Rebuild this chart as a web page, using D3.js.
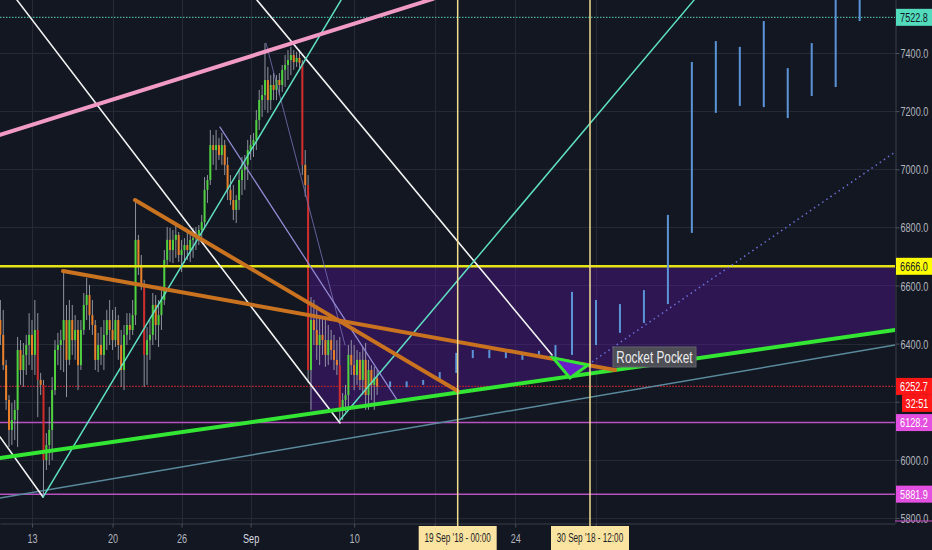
<!DOCTYPE html>
<html>
<head>
<meta charset="utf-8">
<script src="https://cdn.jsdelivr.net/npm/d3@7"></script>
<style>
  html, body { margin: 0; padding: 0; background: #131722; }
  svg { display: block; }
</style>
</head>
<body>
<svg id="chart" width="932" height="550"></svg>
<script>
// ---------------- data ----------------
// BTC/USD 6-hour candles [open, high, low, close], starting 10 Aug 2018 06:00 UTC
const candleStart = "2018-08-10T06:00:00Z";
const candleHours = 6;
const candles = [
  [6481,6550,6395,6430],[6430,6516,6309,6326],[6326,6344,6172,6206],[6206,6223,6044,6103],
  [6103,6196,6051,6137],[6137,6206,6068,6172],[6172,6423,6044,6378],[6378,6412,6258,6309],
  [6309,6402,6251,6361],[6361,6430,6292,6395],[6395,6505,6326,6430],[6430,6481,6309,6361],
  [6361,6550,6292,6447],[6447,6505,6147,6275],[6275,6299,6223,6258],[6258,6275,5882,5999],
  [5999,6092,5965,6051],[6051,6182,5982,6103],[6103,6285,5999,6240],[6240,6412,6223,6378],
  [6378,6437,6326,6395],[6395,6447,6309,6412],[6412,6653,6302,6481],[6481,6533,6216,6344],
  [6344,6550,6326,6481],[6481,6533,6361,6412],[6412,6498,6344,6447],[6447,6481,6240,6326],
  [6326,6481,6309,6447],[6447,6574,6430,6533],[6533,6626,6481,6567],[6567,6602,6447,6498],
  [6498,6550,6430,6464],[6464,6481,6309,6344],[6344,6437,6302,6395],[6395,6457,6326,6361],
  [6361,6481,6309,6430],[6430,6516,6378,6481],[6481,6550,6395,6447],[6447,6516,6378,6412],
  [6412,6526,6388,6481],[6481,6498,6344,6395],[6395,6447,6251,6309],[6309,6464,6240,6430],
  [6430,6505,6395,6464],[6464,6505,6412,6447],[6447,6550,6430,6498],[6498,6894,6464,6757],
  [6757,6774,6636,6671],[6671,6705,6584,6602],[6602,6619,6251,6361],[6361,6457,6258,6412],
  [6412,6481,6344,6430],[6430,6574,6395,6533],[6533,6567,6412,6464],[6464,6550,6388,6498],
  [6498,6584,6447,6550],[6550,6722,6533,6688],[6688,6801,6671,6757],[6757,6798,6681,6722],
  [6722,6791,6677,6757],[6757,6808,6695,6774],[6774,6784,6681,6705],[6705,6757,6646,6722],
  [6722,6763,6677,6739],[6739,6784,6688,6722],[6722,6774,6681,6757],[6757,6798,6695,6763],
  [6763,6801,6722,6774],[6774,6808,6739,6791],[6791,6843,6757,6818],[6818,6973,6801,6929],
  [6929,6980,6884,6963],[6963,7135,6946,7083],[7083,7118,7015,7066],[7066,7135,6997,7083],
  [7083,7108,7032,7049],[7049,7125,7015,7083],[7083,7101,6980,7015],[7015,7042,6894,6929],
  [6929,6980,6877,6894],[6894,6946,6825,6860],[6860,6911,6815,6894],[6894,6997,6860,6963],
  [6963,7042,6911,6997],[6997,7049,6929,7015],[7015,7101,6963,7066],[7066,7118,7032,7083],
  [7083,7125,7042,7101],[7101,7204,7066,7169],[7169,7273,7135,7238],[7238,7290,7180,7255],
  [7255,7434,7204,7307],[7307,7352,7194,7238],[7238,7324,7204,7290],[7290,7331,7238,7273],
  [7273,7324,7238,7307],[7307,7331,7255,7290],[7290,7359,7266,7342],[7342,7393,7283,7359],
  [7359,7410,7307,7376],[7376,7421,7324,7393],[7393,7410,7342,7369],[7369,7404,7352,7383],
  [7383,7410,7348,7366],[7366,7376,6980,7015],[7015,7066,6905,6946],[6946,6980,6264,6309],
  [6309,6560,6172,6481],[6481,6550,6395,6447],[6447,6533,6344,6395],[6395,6498,6326,6430],
  [6430,6492,6361,6412],[6412,6481,6320,6361],[6361,6464,6326,6412],[6412,6447,6344,6378],
  [6378,6430,6309,6344],[6344,6412,6292,6326],[6326,6423,6127,6172],[6172,6230,6137,6206],
  [6206,6258,6165,6223],[6223,6395,6172,6361],[6361,6412,6292,6326],[6326,6395,6240,6292],
  [6292,6378,6258,6344],[6344,6371,6240,6275],[6275,6388,6223,6344],[6344,6402,6172,6223],
  [6223,6344,6172,6309],[6309,6326,6206,6258],[6258,6320,6172,6282],[6282,6309,6223,6252.7]
];

// projected bar pattern (time, high, low)
const projTimes = [
  "2018-09-13T03:00:00Z","2018-09-14T13:30:00Z","2018-09-16T00:00:00Z","2018-09-17T10:30:00Z",
  "2018-09-18T21:00:00Z","2018-09-20T07:30:00Z","2018-09-21T18:00:00Z","2018-09-23T04:30:00Z",
  "2018-09-24T15:00:00Z","2018-09-26T01:30:00Z","2018-09-27T12:00:00Z","2018-09-28T22:30:00Z",
  "2018-10-01T00:30:00Z","2018-10-03T02:30:00Z","2018-10-05T04:30:00Z","2018-10-07T06:30:00Z",
  "2018-10-09T08:30:00Z","2018-10-11T10:30:00Z","2018-10-13T12:30:00Z","2018-10-15T14:30:00Z",
  "2018-10-17T16:30:00Z","2018-10-19T18:30:00Z","2018-10-21T20:30:00Z","2018-10-23T22:30:00Z"
];
const projHigh = [6270,6270,6275,6302,6368,6378,6378,6371,6361,6375,6395,6578,
                  6550,6536,6584,6843,7369,7441,7421,7510,7348,7434,7640,7660];
const projLow  = [6250,6250,6258,6268,6299,6350,6350,6350,6344,6361,6354,6361,
                  6395,6437,6471,6536,6781,7194,7218,7214,7176,7252,7283,7510];

// axis ticks (labels left blank where a tag or marker covers them)
const priceTicks = [7400, 7200, 7000, 6800, 6600, 6400, 6200, 6000, 5800];
const priceTickLabels = ["7400.0","7200.0","7000.0","6800.0","6600.0","6400.0","","6000.0","5800.0"];
const timeTicks = ["2018-08-13","2018-08-20","2018-08-26","2018-09-01","2018-09-10",
                   "2018-09-17","2018-09-24","2018-10-01"];
const timeTickLabels = ["13","20","26","Sep","10","","24",""];

// horizontal levels
const targetLevel = 7522.8;
const resistanceLevel = 6666.0;
const lastPrice = 6252.7;
const supportLevels = [6128.2, 5881.9];
const countdown = "32:51";

// vertical time markers
const markerTimes = ["2018-09-19T00:00:00Z", "2018-09-30T12:00:00Z"];
const markerLabels = ["19 Sep '18 - 00:00", "30 Sep '18 - 12:00"];

// trend lines: [time, price] end points
const pinkChannel   = [["2018-08-10T05:15:00Z", 7118], ["2018-09-16T20:25:00Z", 7586]];
const whiteLineA    = [["2018-08-11T16:45:00Z", 7582], ["2018-09-08T18:30:00Z", 6127]];
const whiteLineB    = [["2018-09-01T13:25:00Z", 7582], ["2018-09-27T04:50:00Z", 6361]];
const whiteLineC    = [["2018-08-10T05:15:00Z", 6079], ["2018-08-13T23:00:00Z", 5872]];
const cyanLineA     = [["2018-08-13T23:00:00Z", 5872], ["2018-09-08T20:40:00Z", 7582]];
const cyanLineB     = [["2018-09-08T18:30:00Z", 6137], ["2018-10-09T13:00:00Z", 7582]];
const slateSupport  = [["2018-08-10T05:15:00Z", 5869], ["2018-10-27T00:15:00Z", 6395]];
const greenSupport  = [["2018-08-10T05:15:00Z", 6006], ["2018-10-27T00:15:00Z", 6447]];
const orangeLower   = [["2018-08-15T16:40:00Z", 6650], ["2018-10-02T16:10:00Z", 6309]];
const orangeUpper   = [["2018-08-21T22:50:00Z", 6894], ["2018-09-19T00:00:00Z", 6237]];
const lavenderA     = [["2018-08-29T08:10:00Z", 7145], ["2018-09-13T17:30:00Z", 6206]];
const lavenderB     = [["2018-09-02T08:10:00Z", 7434], ["2018-09-09T05:00:00Z", 6395]];
const projectionDots = [["2018-09-30T16:10:00Z", 6337], ["2018-10-27T00:15:00Z", 7059]];
const zoneStart = "2018-09-06T03:50:00Z";

// "Rocket Pocket" triangle and its note
const rocketPocket = [["2018-09-27T06:45:00Z", 6351], ["2018-09-28T18:15:00Z", 6282], ["2018-09-30T07:50:00Z", 6326]];
const rocketNote = { time: "2018-10-02T12:00:00Z", price: 6354, text: "Rocket Pocket" };

// ---------------- chart ----------------
const W = 932, H = 550, plotW = 895, plotH = 523;
const font = "'Liberation Sans', Arial, sans-serif";
const svg = d3.select("#chart");

const x = d3.scaleUtc()
  .domain([new Date("2018-08-10T05:15:00Z"), new Date("2018-10-27T00:15:00Z")])
  .range([0, plotW]);
const y = d3.scaleLinear().domain([5782.6, 7582.4]).range([plotH, 0]);

const pt = d => [x(new Date(d[0])), y(d[1])];

svg.append("rect").attr("width", W).attr("height", H).attr("fill", "#131722");

svg.append("defs").append("clipPath").attr("id", "plot-clip")
  .append("rect").attr("width", plotW).attr("height", plotH);

const plot = svg.append("g").attr("clip-path", "url(#plot-clip)");

// grid
plot.append("g").selectAll("line").data(priceTicks).join("line")
  .attr("x1", 0).attr("x2", plotW)
  .attr("y1", d => Math.round(y(d)) + 0.5).attr("y2", d => Math.round(y(d)) + 0.5)
  .attr("stroke", "#262a35").attr("stroke-width", 1);
plot.append("g").selectAll("line").data(timeTicks).join("line")
  .attr("x1", d => Math.round(x(new Date(d))) + 0.5).attr("x2", d => Math.round(x(new Date(d))) + 0.5)
  .attr("y1", 0).attr("y2", plotH)
  .attr("stroke", "#262a35").attr("stroke-width", 1);

// shaded zone between 6666 and the green support line
const gA = pt(greenSupport[0]), gB = pt(greenSupport[1]);
const greenAtX = px => gA[1] + (gB[1] - gA[1]) * (px - gA[0]) / (gB[0] - gA[0]);
const zx0 = x(new Date(zoneStart)), zx1 = plotW + 2;
plot.append("path")
  .attr("d", d3.line()([[zx0, y(resistanceLevel)], [zx1, y(resistanceLevel)], [zx1, greenAtX(zx1)], [zx0, greenAtX(zx0)]]) + "Z")
  .attr("fill", "rgba(92,22,168,0.36)");

// horizontal levels
const hline = (price, color, width, dash) =>
  plot.append("line").attr("x1", 0).attr("x2", plotW)
    .attr("y1", y(price)).attr("y2", y(price))
    .attr("stroke", color).attr("stroke-width", width)
    .attr("stroke-dasharray", dash || null);
hline(targetLevel, "#4fd6b8", 1, "1.5,1.5");
hline(lastPrice, "#a3212c", 1.3, "2,1");
supportLevels.forEach(p => hline(p, "#b651bf", 1.5));

// candles
const t0 = Date.parse(candleStart);
const cg = plot.append("g");
candles.forEach((c, i) => {
  const [o, h, l, cl] = c;
  const cx = x(new Date(t0 + i * candleHours * 3600e3));
  const up = cl >= o;
  const color = up ? "#4fd13f" : (o - cl > 150 ? "#d12b2b" : "#e8802a");
  cg.append("line").attr("x1", cx).attr("x2", cx).attr("y1", y(h)).attr("y2", y(l))
    .attr("stroke", "#a4a8b3").attr("stroke-width", 1).attr("opacity", 0.85);
  cg.append("rect").attr("x", cx - 1).attr("width", 2)
    .attr("y", y(Math.max(o, cl))).attr("height", Math.max(1, Math.abs(y(o) - y(cl))))
    .attr("fill", color);
});

// yellow resistance on top of the candles
hline(resistanceLevel, "#e4e417", 2.5);

// projected bars
plot.append("g").selectAll("line").data(projTimes).join("line")
  .attr("x1", d => x(new Date(d))).attr("x2", d => x(new Date(d)))
  .attr("y1", (d, i) => y(projHigh[i])).attr("y2", (d, i) => y(projLow[i]))
  .attr("stroke", "#5b95d8").attr("stroke-width", 2);

// trend lines
const seg = (pts, color, width, extra) => {
  const a = pt(pts[0]), b = pt(pts[1]);
  const ln = plot.append("line").attr("x1", a[0]).attr("y1", a[1]).attr("x2", b[0]).attr("y2", b[1])
    .attr("stroke", color).attr("stroke-width", width).attr("stroke-linecap", "round");
  if (extra) extra(ln);
  return ln;
};
seg(slateSupport, "#5a8a9c", 1.5);
seg(lavenderB, "#7b72b6", 1, l => l.attr("opacity", 0.8));
seg(lavenderA, "#9288d2", 1.3);
seg(whiteLineA, "#f2f2f2", 1.6);
seg(whiteLineB, "#f2f2f2", 1.6);
seg(whiteLineC, "#f2f2f2", 1.6);
seg(cyanLineA, "#5fe0c2", 1.5);
seg(cyanLineB, "#5fe0c2", 1.5);
seg(projectionDots, "#6c70da", 1.5, l => l.attr("stroke-dasharray", "1.5,3.5").attr("stroke-linecap", "butt"));
seg(greenSupport, "#33e633", 4);
seg(orangeUpper, "#c9721f", 4);
seg(orangeLower, "#c9721f", 4);
seg(pinkChannel, "#f29ac6", 4);

// Rocket Pocket triangle
plot.append("path")
  .attr("d", d3.line()(rocketPocket.map(pt)) + "Z")
  .attr("fill", "#6a1ec8").attr("stroke", "#33e633").attr("stroke-width", 3)
  .attr("stroke-linejoin", "miter");

// vertical time markers
plot.append("g").selectAll("line").data(markerTimes).join("line")
  .attr("x1", d => x(new Date(d))).attr("x2", d => x(new Date(d)))
  .attr("y1", 0).attr("y2", plotH)
  .attr("stroke", "#f1dc8f").attr("stroke-width", 1.5);

// squeezed text helper
function squeezed(parent, px, py, str, opt) {
  const o = Object.assign({ size: 13, anchor: "middle", fill: "#b2b5be", sx: 0.7, weight: "normal" }, opt || {});
  return parent.append("text")
    .attr("transform", `translate(${px},${py}) scale(${o.sx},1)`)
    .attr("text-anchor", o.anchor).attr("dy", "0.35em")
    .attr("font-family", font).attr("font-size", o.size).attr("font-weight", o.weight)
    .attr("fill", o.fill).text(str);
}

// note box
const nx = x(new Date(rocketNote.time)), ny = y(rocketNote.price);
plot.append("rect").attr("x", nx).attr("y", ny - 10).attr("width", 83).attr("height", 20)
  .attr("fill", "#4e4f56").attr("stroke", "#63646b").attr("stroke-width", 1);
squeezed(plot, nx + 41.5, ny, rocketNote.text, { size: 16, fill: "#ececec", sx: 0.74 });

// price axis
const yAxis = d3.axisRight(y).tickValues(priceTicks).tickSize(4).tickSizeOuter(0)
  .tickFormat((d, i) => priceTickLabels[i]);
const gy = svg.append("g").attr("transform", `translate(${plotW + 0.5},0)`).call(yAxis);
gy.select(".domain").attr("stroke", "#3a3e49");
gy.selectAll(".tick line").attr("stroke", "#4c505b");
gy.selectAll(".tick text").attr("x", null).attr("dy", "0.35em")
  .attr("transform", "translate(5,0) scale(0.7,1)").attr("text-anchor", "start")
  .attr("fill", "#b2b5be").attr("font-size", 13).attr("font-family", font);

// time axis
const xAxis = d3.axisBottom(x).tickValues(timeTicks.map(d => new Date(d + "T00:00:00Z")))
  .tickFormat((d, i) => timeTickLabels[i]).tickSize(4).tickSizeOuter(0);
const gx = svg.append("g").attr("transform", `translate(0,${plotH + 0.5})`).call(xAxis);
gx.select(".domain").attr("stroke", "#3a3e49");
gx.selectAll(".tick line").attr("stroke", "#4c505b");
gx.selectAll(".tick text").attr("y", null).attr("dy", null)
  .attr("transform", "translate(0,19) scale(0.7,1)")
  .attr("fill", (d, i) => timeTickLabels[i] === "Sep" ? "#d8dae0" : "#b2b5be")
  .attr("font-size", 13).attr("font-family", font);

// marker labels on the time axis
markerTimes.forEach((d, i) => {
  const mx = x(new Date(d));
  svg.append("line").attr("x1", mx).attr("x2", mx).attr("y1", plotH).attr("y2", plotH + 4)
    .attr("stroke", "#f1dc8f").attr("stroke-width", 1.5);
  svg.append("rect").attr("x", mx - 39).attr("y", plotH + 3).attr("width", 78).attr("height", H - plotH - 3)
    .attr("fill", "#fbe3a1");
  squeezed(svg, mx, plotH + 15, markerLabels[i], { size: 12, fill: "#1b1d26", sx: 0.68 });
});

// price tags on the axis
const tag = (price, text, bg, fg, offset, xStart) => {
  const cy = y(price) + (offset || 0);
  const x0 = xStart || plotW + 1;
  svg.append("rect").attr("x", x0).attr("y", cy - 8.5).attr("width", W - x0).attr("height", 17).attr("fill", bg);
  squeezed(svg, (x0 + W) / 2, cy, text, { size: 13, fill: fg, sx: 0.7 });
};
tag(targetLevel, d3.format(".1f")(targetLevel), "#52dcbd", "#131722");
tag(resistanceLevel, d3.format(".1f")(resistanceLevel), "#ffff00", "#131722");
tag(lastPrice, d3.format(".1f")(lastPrice), "#ff1717", "#ffffff");
tag(lastPrice, countdown, "#ff1717", "#ffffff", 17, plotW + 7);
supportLevels.forEach(p => tag(p, d3.format(".1f")(p), "#e34fe0", "#ffffff"));
svg.append("line").attr("x1", plotW).attr("x2", W).attr("y1", plotH - 2).attr("y2", plotH - 2)
  .attr("stroke", "#c94cc6").attr("stroke-width", 1);
</script>
</body>
</html>
